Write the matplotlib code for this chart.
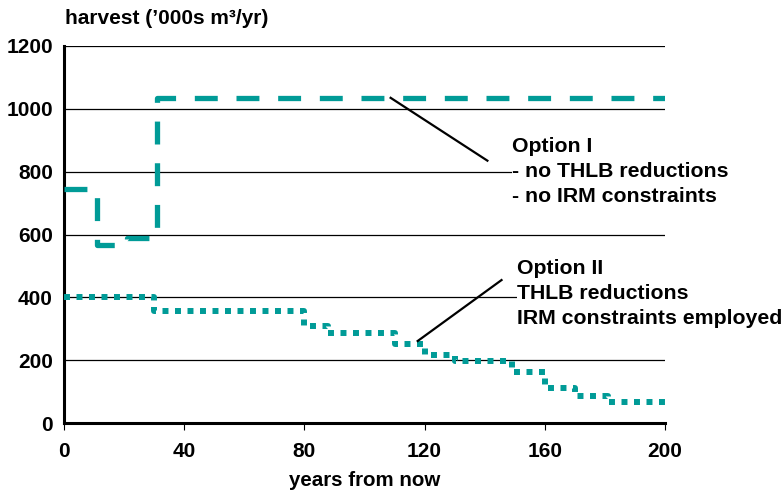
import numpy as np
import matplotlib
matplotlib.use("Agg")
import matplotlib.pyplot as plt

plt.rcParams['font.family'] = ['Liberation Sans', 'DejaVu Sans']
plt.rcParams['font.weight'] = 'bold'
plt.rcParams['lines.scale_dashes'] = False

# Option I - no THLB reductions, no IRM constraints
opt1_years = [0, 11, 21, 31, 200]
opt1_harvest = [745, 568, 588, 1035, 1035]

# Option II - THLB reductions, IRM constraints employed
opt2_years = [0, 30, 80, 88, 110, 120, 130, 149, 160, 170, 181, 200]
opt2_harvest = [400, 355, 310, 285, 250, 215, 197, 163, 112, 85, 66, 66]

x_ticks = [0, 40, 80, 120, 160, 200]
y_ticks = [0, 200, 400, 600, 800, 1000, 1200]

teal = '#009B97'

fig = plt.figure(figsize=(7.83, 4.94), dpi=100)
ax = fig.add_axes([0.0817, 0.1437, 0.7676, 0.7632])

for y in y_ticks[1:]:
    ax.axhline(y, color='black', lw=0.9, zorder=1)

l1, = ax.step(opt1_years, opt1_harvest, where='post', color=teal, lw=3.8,
              solid_capstyle='butt', dash_capstyle='butt', zorder=3)
l1.set_dashes((16.5, 13.5))
l2, = ax.step(opt2_years, opt2_harvest, where='post', color=teal, lw=4.3,
              dash_capstyle='butt', zorder=3)
l2.set_dashes((4.3, 4.7))

# leader lines
ax.plot([108.7, 140.9], [1035, 835], color='black', lw=1.6, zorder=4, clip_on=False)
ax.plot([117.7, 145.6], [261, 455], color='black', lw=1.6, zorder=4, clip_on=False)

# text boxes are opaque: they hide the gridlines behind them
box = dict(facecolor='white', edgecolor='none', pad=0)
ax.text(149.2, 911, "Option I\n- no THLB reductions\n- no IRM constraints",
        fontsize=15.3, fontweight='bold', va='top', ha='left', linespacing=1.4,
        bbox=box, zorder=5, clip_on=False)
ax.text(150.9, 522, "Option II\nTHLB reductions\nIRM constraints employed",
        fontsize=15.3, fontweight='bold', va='top', ha='left', linespacing=1.4,
        bbox=box, zorder=5, clip_on=False)

ax.set_xlim(0, 200)
ax.set_ylim(0, 1200)
ax.set_xticks(x_ticks)
ax.set_yticks(y_ticks)
ax.set_xticklabels([str(v) for v in x_ticks], fontsize=15, fontweight='bold')
ax.set_yticklabels([str(v) for v in y_ticks], fontsize=15, fontweight='bold')
ax.tick_params(axis='y', length=0, pad=8)
ax.tick_params(axis='x', length=5, width=0.8, direction='out', pad=9)

ax.spines['right'].set_visible(False)
ax.spines['top'].set_visible(False)
ax.spines['left'].set_linewidth(2.2)
ax.spines['bottom'].set_linewidth(2.2)

ax.set_xlabel("years from now", fontsize=14.8, fontweight='bold', labelpad=7)
fig.text(65 / 783, 1 - 19 / 494, "harvest (\u2019000s m\u00b3/yr)", fontsize=15,
         fontweight='bold', va='center', ha='left')

fig.savefig("out.png", dpi=100)
